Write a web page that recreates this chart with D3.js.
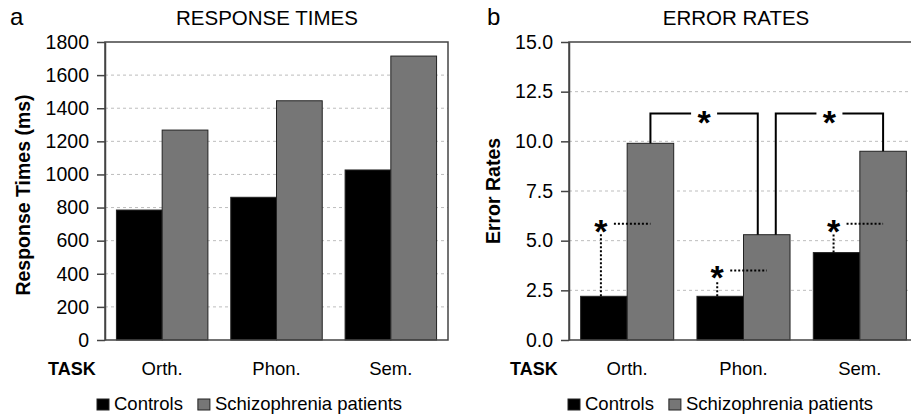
<!DOCTYPE html>
<html>
<head>
<meta charset="utf-8">
<script src="https://cdn.jsdelivr.net/npm/d3@7/dist/d3.min.js"></script>
<style>
  body { margin: 0; background: #fff; }
  svg { display: block; font-family: "Liberation Sans", Arial, sans-serif; }
  .grid line { stroke: #bdbdbd; stroke-dasharray: 3,3; stroke-width: 1; }
  .axis path, .axis line { stroke: #444; stroke-width: 1.5; }
  .axis text { font-size: 19.5px; fill: #000; }
  .frame { fill: none; stroke: #444; stroke-width: 1.5; }
  .catLabel { font-size: 18.5px; }
  .legendText { font-size: 18.5px; }
  .bold { font-weight: bold; }
</style>
</head>
<body>
<script>
(function(){

    //data
    var tasks = ["Orth.", "Phon.", "Sem."];
    var groups = ["Controls", "Schizophrenia patients"];
    var rtControls = [785, 862, 1027];    //response times (ms)
    var rtPatients = [1268, 1445, 1715];
    var errControls = [2.2, 2.2, 4.4];     //error rates
    var errPatients = [9.9, 5.3, 9.5];
    var rtTicks = [0, 200, 400, 600, 800, 1000, 1200, 1400, 1600, 1800];
    var errTicks = [0, 2.5, 5, 7.5, 10, 12.5, 15];
    var errWithinLevels = [5.85, 3.5, 5.85];   //dotted controls-vs-patients marks
    var errBetweenFrom = [0, 1];               //solid brackets between tasks (patients)
    var errBetweenTo = [1, 2];
    var errBetweenLevel = [11.4, 11.4];

    var colors = {"Controls": "#000000", "Schizophrenia patients": "#767676"};

    var width = 911,
        height = 418;

    var svg = d3.select("body")
        .append("svg")
        .attr("width", width)
        .attr("height", height);

    //panel a
    var panelA = drawPanel({
        letter: "a", letterX: 10,
        title: "RESPONSE TIMES", titleX: 267,
        ylabel: "Response Times (ms)", ylabelX: 30, ylabelY: 195,
        left: 105, right: 448, top: 42, bottom: 340,
        ticks: rtTicks, format: d3.format("d"),
        controls: rtControls, patients: rtPatients,
        taskX: 48, legendX: 97
    });

    //panel b
    var panelB = drawPanel({
        letter: "b", letterX: 487,
        title: "ERROR RATES", titleX: 736,
        ylabel: "Error Rates", ylabelX: 500, ylabelY: 191,
        left: 569, right: 918, top: 42, bottom: 340,
        ticks: errTicks, format: d3.format(".1f"),
        controls: errControls, patients: errPatients,
        taskX: 510, legendX: 568
    });

    drawErrorMarks(panelB);

    function drawPanel(p){

        var g = svg.append("g");

        var x = d3.scaleBand()
            .domain(tasks)
            .range([p.left, p.right])
            .paddingInner(0.2)
            .paddingOuter(0.1);

        var xSub = d3.scaleBand()
            .domain(groups)
            .range([0, x.bandwidth()]);

        var y = d3.scaleLinear()
            .domain([0, d3.max(p.ticks)])
            .range([p.bottom, p.top]);

        //dashed gridlines
        g.append("g")
            .attr("class", "grid")
            .selectAll("line")
            .data(p.ticks.slice(1, -1))
            .enter()
            .append("line")
            .attr("x1", p.left)
            .attr("x2", p.right)
            .attr("y1", function(d){ return y(d); })
            .attr("y2", function(d){ return y(d); });

        //bars
        tasks.forEach(function(t, i){
            var vals = [p.controls[i], p.patients[i]];
            g.selectAll(".bar" + i)
                .data(groups)
                .enter()
                .append("rect")
                .attr("x", function(d){ return x(t) + xSub(d); })
                .attr("width", xSub.bandwidth())
                .attr("y", function(d, j){ return y(vals[j]); })
                .attr("height", function(d, j){ return y(0) - y(vals[j]); })
                .attr("fill", function(d){ return colors[d]; })
                .attr("stroke", "#222")
                .attr("stroke-width", 1);
        });

        //frame round the plot
        g.append("rect")
            .attr("class", "frame")
            .attr("x", p.left)
            .attr("y", p.top)
            .attr("width", p.right - p.left)
            .attr("height", p.bottom - p.top);

        //y axis
        g.append("g")
            .attr("class", "axis")
            .attr("transform", "translate(" + p.left + ",0)")
            .call(d3.axisLeft(y)
                .tickValues(p.ticks)
                .tickFormat(p.format)
                .tickSize(8)
                .tickSizeOuter(0)
                .tickPadding(8));

        //category labels
        g.selectAll(".catLabel")
            .data(tasks)
            .enter()
            .append("text")
            .attr("class", "catLabel")
            .attr("x", function(d){ return x(d) + x.bandwidth() / 2; })
            .attr("y", 375)
            .attr("text-anchor", "middle")
            .text(function(d){ return d; });

        g.append("text")
            .attr("class", "bold")
            .attr("x", p.taskX)
            .attr("y", 375)
            .style("font-size", "18px")
            .text("TASK");

        //titles
        g.append("text")
            .attr("x", p.letterX)
            .attr("y", 25)
            .style("font-size", "24px")
            .text(p.letter);

        g.append("text")
            .attr("x", p.titleX)
            .attr("y", 25)
            .attr("text-anchor", "middle")
            .style("font-size", "20.5px")
            .text(p.title);

        g.append("text")
            .attr("class", "bold")
            .attr("transform", "translate(" + p.ylabelX + "," + p.ylabelY + ") rotate(-90)")
            .attr("text-anchor", "middle")
            .style("font-size", "19.5px")
            .text(p.ylabel);

        //legend
        var lx = p.legendX;
        groups.forEach(function(d){
            g.append("rect")
                .attr("x", lx)
                .attr("y", 399)
                .attr("width", 12)
                .attr("height", 11)
                .attr("fill", colors[d])
                .attr("stroke", "#222")
                .attr("stroke-width", 1);
            var txt = g.append("text")
                .attr("class", "legendText")
                .attr("x", lx + 17)
                .attr("y", 410)
                .text(d);
            lx = lx + 17 + txt.node().getComputedTextLength() + 15;
        });

        return {g: g, x: x, xSub: xSub, y: y, controls: p.controls, patients: p.patients};
    };

    function drawErrorMarks(panel){
        var g = panel.g, x = panel.x, xSub = panel.xSub, y = panel.y;
        var starSize = 34;

        function center(i, grp){
            return x(tasks[i]) + xSub(grp) + xSub.bandwidth() / 2;
        }

        function star(cx, cy){
            g.append("text")
                .attr("class", "bold")
                .attr("x", cx)
                .attr("y", cy + starSize * 0.5)
                .attr("text-anchor", "middle")
                .style("font-size", starSize + "px")
                .text("*");
        }

        //dotted marks, controls vs patients within each task
        errWithinLevels.forEach(function(lev, i){
            var cx = center(i, groups[0]) - 3;
            var ly = y(lev);
            g.append("line")
                .attr("x1", cx).attr("x2", cx)
                .attr("y1", y(panel.controls[i]))
                .attr("y2", ly + 10)
                .attr("stroke", "#000")
                .attr("stroke-width", 2)
                .attr("stroke-dasharray", "2,2");
            g.append("line")
                .attr("x1", cx + 13)
                .attr("x2", center(i, groups[1]))
                .attr("y1", ly).attr("y2", ly)
                .attr("stroke", "#000")
                .attr("stroke-width", 2)
                .attr("stroke-dasharray", "2,2");
            star(cx, ly + 2);
        });

        //solid brackets, patients between tasks
        var legCount = tasks.map(function(){ return 0; });
        errBetweenFrom.forEach(function(f, k){ legCount[f]++; legCount[errBetweenTo[k]]++; });
        var legUsed = tasks.map(function(){ return 0; });

        function legX(i){
            var c = center(i, groups[1]);
            if (legCount[i] > 1){
                c = c + (legUsed[i] == 0 ? -9 : 9);
            }
            legUsed[i]++;
            return c;
        }

        errBetweenFrom.forEach(function(f, k){
            var t = errBetweenTo[k];
            var x1 = legX(f), x2 = legX(t);
            var ly = y(errBetweenLevel[k]);
            var mid = (x1 + x2) / 2;
            g.append("path")
                .attr("d", "M" + x1 + "," + y(panel.patients[f]) + "V" + ly + "H" + (mid - 13))
                .attr("fill", "none")
                .attr("stroke", "#000")
                .attr("stroke-width", 2);
            g.append("path")
                .attr("d", "M" + (mid + 13) + "," + ly + "H" + x2 + "V" + y(panel.patients[t]))
                .attr("fill", "none")
                .attr("stroke", "#000")
                .attr("stroke-width", 2);
            star(mid, ly + 3);
        });
    };
})();
</script>
</body>
</html>
